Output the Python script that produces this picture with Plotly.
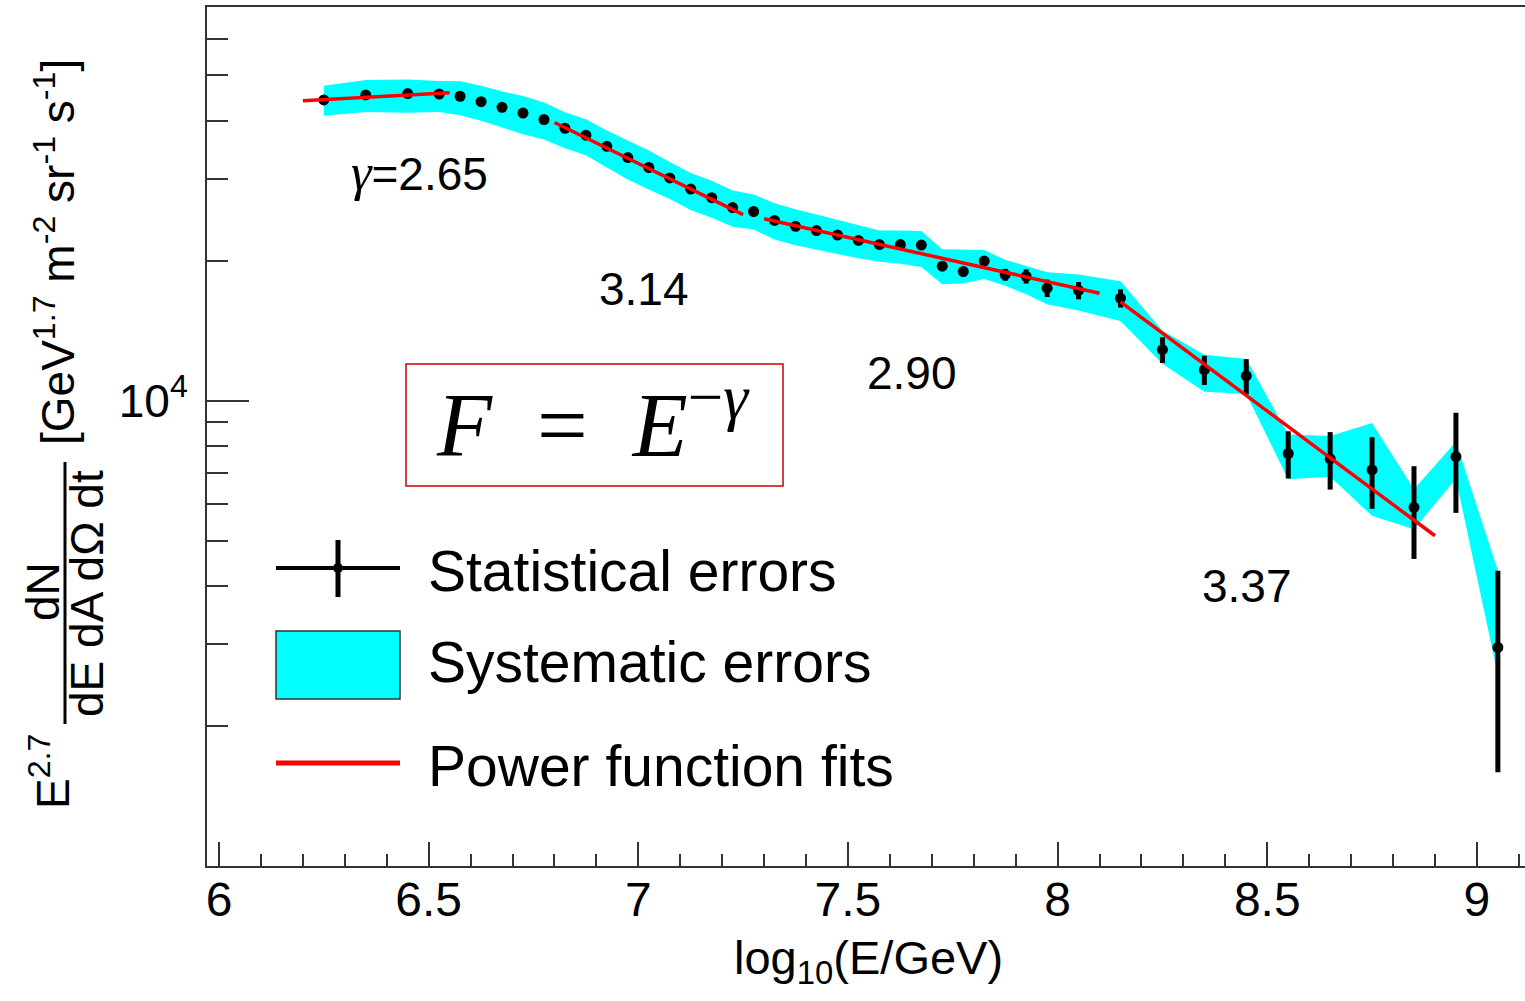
import math
import plotly.graph_objects as go

# ---- measured spectrum: bin centres in log10(E/GeV) ----
log_e = [6.25, 6.35, 6.45,
         6.525, 6.575, 6.625, 6.675, 6.725, 6.775, 6.825, 6.875, 6.925, 6.975,
         7.025, 7.075, 7.125, 7.175, 7.225, 7.275, 7.325, 7.375, 7.425, 7.475,
         7.525, 7.575, 7.625, 7.675, 7.725, 7.775, 7.825, 7.875, 7.925, 7.975,
         8.05, 8.15, 8.25, 8.35, 8.45, 8.55, 8.65, 8.75, 8.85, 8.95, 9.05]

# E^2.7 dN/dE dA dOmega dt  [GeV^1.7 m^-2 sr^-1 s^-1]
flux = [44300, 45400, 45700,
        45600, 45100, 43900, 42700, 41500, 40200, 38500, 37200, 35200, 33300,
        31700, 30100, 28500, 27300, 26000, 25500, 24400, 23700, 23200, 22700,
        22100, 21650, 21650, 21600, 19450, 18950, 19950, 18650, 18500, 17450,
        17250, 16600, 12870, 11650, 11300, 7700, 7500, 7100, 5900, 7580, 2950]

# statistical uncertainty (absolute, symmetric)
stat_err = [120, 120, 120,
            120, 120, 120, 120, 120, 120, 110, 110, 110, 110,
            110, 110, 110, 110, 110, 110, 110, 110, 110, 130,
            150, 170, 190, 210, 240, 300, 400, 550, 650, 750,
            740, 750, 820, 840, 980, 895, 1060, 1245, 1330, 1840, 1360]

# systematic uncertainty band (percent, upper / lower)
sys_up_pct = [7.2, 7.7, 7.2,
              6.6, 7.7, 8.2, 8.2, 8.8, 8.8, 8.2, 8.2, 8.2, 8.8,
              8.8, 8.2, 8.2, 8.8, 8.8, 8.8, 8.8, 8.8, 8.2, 7.7,
              7.7, 7.2, 7.2, 7.2, 8.8, 11.5, 5.6, 7.7, 5.1, 8.2,
              8.2, 8.8, 9.8, 7.7, 8.8, 9.8, 12.0, 26.1, 9.3, 7.7, 46.3]
sys_dn_pct = [7.6, 8.1, 9.0,
              8.5, 9.0, 9.0, 9.4, 9.9, 9.4, 9.4, 9.4, 9.9, 10.3,
              10.3, 9.9, 9.9, 9.4, 9.0, 8.5, 9.0, 9.0, 9.0, 9.0,
              8.5, 8.1, 9.0, 10.3, 8.5, 5.8, 8.5, 5.3, 8.5, 7.6,
              9.4, 10.7, 6.7, 10.3, 8.5, 12.0, 8.5, 20.3, 10.3, 10.3, 12.9]

# ---- power-law fits F ~ E^-gamma over four energy ranges ----
fit_start = [6.2, 6.8, 7.3, 8.15]
fit_end = [6.55, 7.25, 8.1, 8.9]
fit_norm = [44100, 39600, 24600, 16300]   # flux at the start of each range
gammas = [2.65, 3.14, 2.90, 3.37]
gamma_label_x = [6.477, 7.014, 7.653, 8.452]
gamma_label_y = [31000, 17400, 11480, 3990]

x_ticks = [6, 6.5, 7, 7.5, 8, 8.5, 9]
y_major = [1e4]
y_minor = [2000, 3000, 4000, 5000, 6000, 7000, 8000, 9000,
           20000, 30000, 40000, 50000, 60000]

# ---- page geometry (pixels) ----
W, H = 1525, 1001
L, R, T, B = 207, 1525, 7, 866
FONT = "Liberation Sans, Arial, sans-serif"
SERIF = "Liberation Serif, Times New Roman, serif"
FRAME = "#333333"
NBSP = "\u00a0"


def px(X):
    return (X - L) / (R - L)


def py(Y):
    return (B - Y) / (B - T)


fig = go.Figure()

# systematic band
band_hi = [f * (1 + u / 100) for f, u in zip(flux, sys_up_pct)]
band_lo = [f * (1 - d / 100) for f, d in zip(flux, sys_dn_pct)]
fig.add_trace(go.Scatter(
    x=log_e + log_e[::-1], y=band_hi + band_lo[::-1],
    fill="toself", fillcolor="#00FFFF", mode="lines",
    line=dict(width=0, color="#00FFFF"), hoverinfo="skip"))

# data points with statistical errors
fig.add_trace(go.Scatter(
    x=log_e, y=flux, mode="markers",
    marker=dict(color="black", size=11),
    error_y=dict(type="data", array=stat_err, symmetric=True,
                 color="black", thickness=5, width=0)))

# power-law fit segments
for x0, x1, a, g in zip(fit_start, fit_end, fit_norm, gammas):
    fig.add_trace(go.Scatter(
        x=[x0, x1], y=[a, a * 10 ** ((2.7 - g) * (x1 - x0))],
        mode="lines", line=dict(color="#FF0000", width=3.5)))

annotations = []
for i, (g, gx, gy) in enumerate(zip(gammas, gamma_label_x, gamma_label_y)):
    txt = f"{g:.2f}"
    if i == 0:
        txt = (f"<span style='font-family:{SERIF};font-size:52px'><i>γ</i></span>="
               + txt)
    annotations.append(dict(x=gx, y=math.log10(gy), xref="x", yref="y",
                            xanchor="center", yanchor="middle",
                            text=txt, showarrow=False,
                            font=dict(family=FONT, size=46, color="black")))


def paper_note(X, Y, text, size, family=FONT, anchor="center", angle=0):
    return dict(x=px(X), y=py(Y), xref="paper", yref="paper",
                xanchor=anchor, yanchor="middle", showarrow=False,
                text=text, textangle=angle,
                font=dict(family=family, size=size, color="black"))


# formula box text
formula = (f"<i>F</i>{NBSP * 2}={NBSP * 2}<i>E</i>"
           "<sup>−<i>γ</i></sup>")
annotations.append(paper_note(593, 418, formula, 90, family=SERIF))

# legend entries
for t, yy in [("Statistical errors", 571), ("Systematic errors", 662),
              ("Power function fits", 766)]:
    annotations.append(paper_note(426, yy, t, 57, anchor="left"))

# axis titles
annotations.append(paper_note(868, 961, "log<sub>10</sub>(E/GeV)", 47))
annotations += [
    paper_note(50, 772, "E<sup>2.7</sup>", 46, angle=-90),
    paper_note(43, 592, "dN", 46, angle=-90),
    paper_note(87, 594, "dE dA dΩ dt", 46, angle=-90),
    paper_note(55, 252,
               "[GeV<sup>1.7</sup> m<sup>-2</sup> sr<sup>-1</sup> s<sup>-1</sup>]",
               46, angle=-90),
]

shapes = [
    # fraction bar of the y title
    dict(type="line", xref="paper", yref="paper", x0=px(65), x1=px(65),
         y0=py(462), y1=py(724), line=dict(color="black", width=3)),
    # formula frame
    dict(type="rect", xref="paper", yref="paper", x0=px(406), x1=px(783),
         y0=py(486), y1=py(364), line=dict(color="#CC0000", width=1.5)),
    # legend: statistical errors marker
    dict(type="line", xref="paper", yref="paper", x0=px(276), x1=px(400),
         y0=py(568), y1=py(568), line=dict(color="black", width=4)),
    dict(type="line", xref="paper", yref="paper", x0=px(338), x1=px(338),
         y0=py(540), y1=py(597), line=dict(color="black", width=5)),
    dict(type="circle", xref="paper", yref="paper", x0=px(333), x1=px(343),
         y0=py(573), y1=py(563), fillcolor="black", line=dict(width=0)),
    # legend: systematic band swatch
    dict(type="rect", xref="paper", yref="paper", x0=px(276), x1=px(400),
         y0=py(699), y1=py(631), fillcolor="#00FFFF",
         line=dict(color=FRAME, width=1.5)),
    # legend: fit line
    dict(type="line", xref="paper", yref="paper", x0=px(276), x1=px(400),
         y0=py(763), y1=py(763), line=dict(color="#FF0000", width=5)),
]

fig.update_layout(
    width=W, height=H,
    margin=dict(l=L, r=W - R, t=T, b=H - B, pad=0),
    paper_bgcolor="white", plot_bgcolor="white",
    showlegend=False,
    annotations=annotations, shapes=shapes,
    xaxis=dict(range=[6 - 12 / 419.3, 6 + (R - 219) / 419.3],
               tickmode="array", tickvals=x_ticks,
               ticks="inside", ticklen=24, tickwidth=1.5, tickcolor=FRAME,
               minor=dict(dtick=0.1, tick0=6, ticks="inside", ticklen=12,
                          tickwidth=1.5, tickcolor=FRAME),
               showline=True, linecolor=FRAME, linewidth=2, mirror=True,
               showgrid=False, zeroline=False,
               tickfont=dict(family=FONT, size=48, color="black"),
               ticklabelstandoff=-10),
    yaxis=dict(type="log", range=[3.0, 4.846],
               tickmode="array", tickvals=y_major, ticktext=["10<sup>4</sup>"],
               ticks="inside", ticklen=42, tickwidth=1.5, tickcolor=FRAME,
               minor=dict(tickmode="array", tickvals=y_minor, ticks="inside",
                          ticklen=21, tickwidth=1.5, tickcolor=FRAME),
               showline=True, linecolor=FRAME, linewidth=2,
               showgrid=False, zeroline=False,
               tickfont=dict(family=FONT, size=46, color="black"),
               ticklabelstandoff=8),
)

fig.write_html("out.html")
